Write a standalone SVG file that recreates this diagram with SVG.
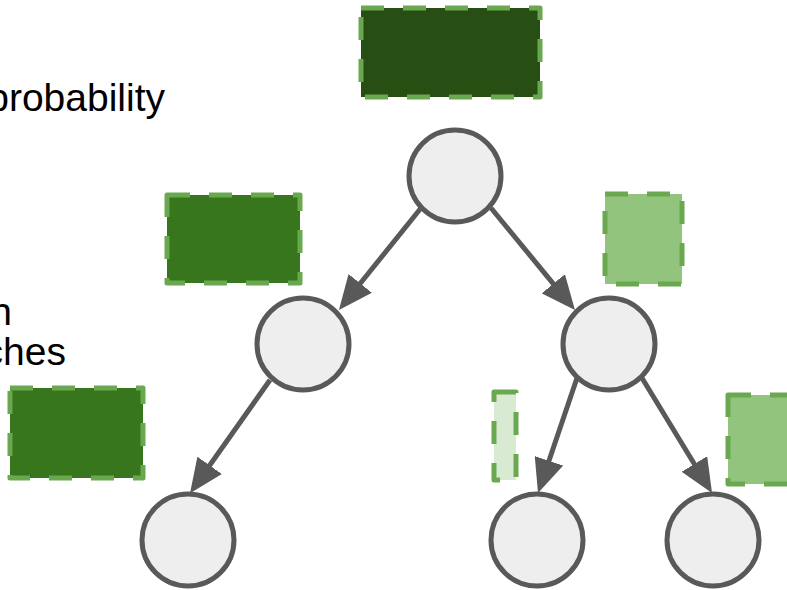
<svg xmlns="http://www.w3.org/2000/svg" width="787" height="590" viewBox="0 0 787 590">
<style>
.lbl{font-family:"Liberation Sans",Arial,sans-serif;font-size:39px;fill:#000;text-anchor:end}
.box{stroke:#6aa84f;stroke-width:5;stroke-dasharray:23 19;stroke-linejoin:round}
.node{fill:#eeeeee;stroke:#595959;stroke-width:5}
.edge{stroke:#595959;stroke-width:5;fill:none;marker-end:url(#ah)}
</style>
<defs>
<marker id="ah" markerUnits="strokeWidth" markerWidth="7" markerHeight="6" refX="0.4" refY="3" orient="auto">
<path d="M0,0 L6.8,3 L0,6 z" fill="#595959"/>
</marker>
</defs>
<rect width="787" height="590" fill="#fff"/>
<g id="labels">
<text class="lbl" x="165" y="111">probability</text>
<text class="lbl" x="12" y="325">n</text>
<text class="lbl" x="66" y="365">ches</text>
</g>
<g id="boxes">
<rect id="box-top" class="box" x="361" y="8" width="179" height="89" fill="#274e13"/>
<rect id="box-left" class="box" x="167" y="195" width="133" height="88" fill="#38761d"/>
<rect id="box-right" class="box" x="605" y="194" width="77" height="90" fill="#93c47d"/>
<rect id="box-bottomleft" class="box" x="10" y="388" width="133" height="90" fill="#38761d"/>
<rect id="box-thin" class="box" x="494" y="392" width="22" height="88" fill="#d9ead3"/>
<rect id="box-bottomright" class="box" x="728" y="395" width="90" height="89" fill="#93c47d"/>
</g>
<g id="connectors">
<line class="edge" x1="421" y1="208" x2="359" y2="285"/>
<line class="edge" x1="491" y1="208" x2="554.6" y2="285.3"/>
<line class="edge" x1="270" y1="380" x2="208.5" y2="467"/>
<line class="edge" x1="577" y1="378" x2="548.3" y2="462.7"/>
<line class="edge" x1="642" y1="378" x2="695.4" y2="465.7"/>
</g>
<g id="n-root"><circle class="node" cx="455" cy="176" r="46"/></g>
<g id="n-left"><circle class="node" cx="303" cy="344" r="46"/></g>
<g id="n-right"><circle class="node" cx="609" cy="344" r="46"/></g>
<g id="n-ll"><circle class="node" cx="188" cy="540" r="46"/></g>
<g id="n-rl"><circle class="node" cx="537" cy="540" r="46"/></g>
<g id="n-rr"><circle class="node" cx="713" cy="540" r="46"/></g>
</svg>
